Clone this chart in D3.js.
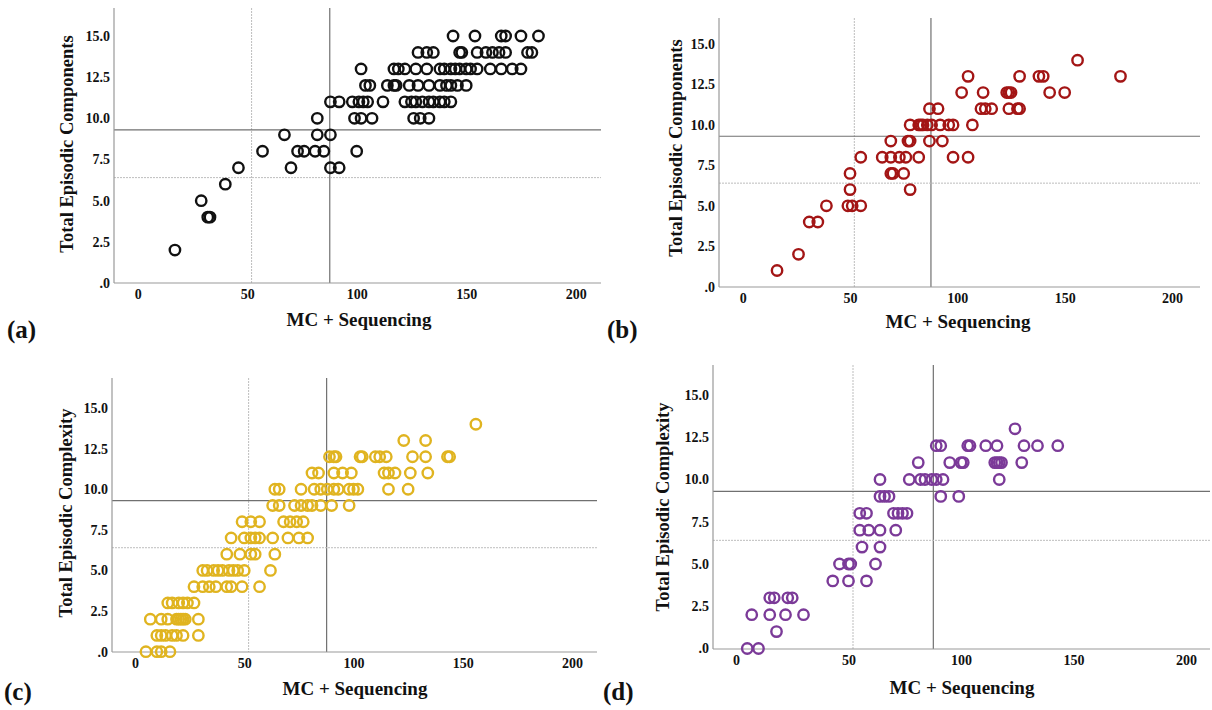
<!DOCTYPE html>
<html><head><meta charset="utf-8">
<script src="https://cdn.jsdelivr.net/npm/d3@7"></script>
<style>
body{margin:0;background:#fff}
svg text{font-family:"Liberation Serif","Times New Roman",serif !important;font-weight:bold;fill:#111}
</style></head>
<body><svg id="chart" width="1212" height="710"></svg>
<script>
// ---- data ----
const xTicks = [0, 50, 100, 150, 200];
const yTicks = [0, 2.5, 5, 7.5, 10, 12.5, 15];
const refX = [52, 87.7];   // dotted, solid
const refY = [6.4, 9.3];   // dotted, solid
const xTitle = "MC + Sequencing";
const yTitles = ["Total Episodic Components", "Total Episodic Components", "Total Episodic Complexity", "Total Episodic Complexity"];
const panelLetters = ["(a)", "(b)", "(c)", "(d)"];
const colors = ["#111111", "#a31515", "#e0b420", "#7b3a98"];

const pointsA = [[17,2],[29,5],[32,4],[33,4],[40,6],[46,7],[57,8],[67,9],[70,7],[73,8],[76,8],[81,8],[82,9],[82,10],[85,8],[88,9],[88,7],[88,11],[92,7],[92,11],[98,11],[99,10],[100,8],[101,11],[102,13],[102,10],[103,11],[104,12],[105,11],[106,12],[107,10],[112,11],[114,12],[117,12],[117,13],[118,12],[119,13],[122,13],[122,11],[124,12],[125,11],[126,10],[127,11],[127,13],[128,12],[128,14],[129,10],[130,11],[132,13],[132,14],[133,10],[133,11],[133,12],[135,11],[135,14],[138,11],[138,12],[138,13],[140,11],[140,13],[141,12],[143,11],[143,12],[143,13],[144,15],[145,13],[146,12],[147,13],[147,14],[148,14],[150,12],[150,13],[152,13],[154,15],[155,13],[155,14],[159,14],[161,13],[162,14],[165,14],[166,13],[166,15],[168,14],[168,15],[171,13],[175,13],[175,15],[178,14],[180,14],[183,15]];
const pointsB = [[16,1],[26,2],[31,4],[35,4],[39,5],[49,5],[51,5],[55,5],[50,6],[50,7],[69,7],[70,7],[75,7],[78,6],[55,8],[65,8],[69,8],[73,8],[76,8],[82,8],[98,8],[105,8],[69,9],[77,9],[78,9],[87,9],[93,9],[78,10],[82,10],[83,10],[84,10],[86,10],[88,10],[92,10],[96,10],[98,10],[107,10],[87,11],[91,11],[111,11],[113,11],[116,11],[124,11],[128,11],[129,11],[102,12],[112,12],[123,12],[124,12],[125,12],[143,12],[150,12],[105,13],[129,13],[138,13],[140,13],[176,13],[156,14]];
const pointsC = [[5,0],[10,0],[12,0],[16,0],[10,1],[12,1],[14,1],[17,1],[19,1],[22,1],[29,1],[7,2],[12,2],[15,2],[19,2],[20,2],[21,2],[22,2],[23,2],[29,2],[15,3],[17,3],[20,3],[22,3],[24,3],[27,3],[27,4],[31,4],[34,4],[37,4],[42,4],[44,4],[49,4],[57,4],[31,5],[33,5],[36,5],[38,5],[40,5],[43,5],[45,5],[47,5],[50,5],[62,5],[42,6],[48,6],[53,6],[55,6],[64,6],[44,7],[50,7],[53,7],[55,7],[57,7],[63,7],[70,7],[75,7],[79,7],[49,8],[53,8],[57,8],[68,8],[71,8],[74,8],[77,8],[63,9],[66,9],[73,9],[76,9],[79,9],[81,9],[85,9],[90,9],[98,9],[64,10],[66,10],[76,10],[82,10],[85,10],[88,10],[91,10],[93,10],[98,10],[100,10],[102,10],[116,10],[125,10],[81,11],[84,11],[91,11],[95,11],[99,11],[114,11],[116,11],[119,11],[126,11],[134,11],[89,12],[91,12],[92,12],[103,12],[104,12],[110,12],[112,12],[115,12],[127,12],[133,12],[143,12],[144,12],[123,13],[133,13],[156,14]];
const pointsD = [[5,0],[10,0],[18,1],[7,2],[15,2],[22,2],[30,2],[15,3],[17,3],[23,3],[25,3],[43,4],[50,4],[58,4],[46,5],[50,5],[51,5],[62,5],[56,6],[64,6],[55,7],[59,7],[64,7],[71,7],[55,8],[58,8],[70,8],[72,8],[74,8],[76,8],[64,9],[66,9],[68,9],[91,9],[99,9],[64,10],[77,10],[82,10],[84,10],[87,10],[89,10],[92,10],[117,10],[81,11],[95,11],[100,11],[101,11],[115,11],[116,11],[117,11],[118,11],[127,11],[89,12],[91,12],[103,12],[104,12],[111,12],[116,12],[128,12],[134,12],[143,12],[124,13]];
const allPoints = [pointsA, pointsB, pointsC, pointsD];

// ---- layout (pixels) ----
const layout = [
  {box:[114,601,8,283],  x:[137.7,575.7], y:[283,36],   yt:[67,144],  xt:[359,326], lt:[7,338]},
  {box:[719,1200,18,287],x:[742.7,1172],  y:[286.7,44], yt:[676,148], xt:[958,328], lt:[607,338]},
  {box:[112,597,378,652],x:[135,572],     y:[651.7,408],yt:[66,513],  xt:[355,695], lt:[4,700]},
  {box:[713,1210,365,649],x:[736,1186],   y:[648.5,395],yt:[663,507], xt:[962,694], lt:[603,700]}
];

const svg = d3.select("#chart");
const fmtY = v => v === 0 ? ".0" : d3.format(".1f")(v);
const serif = '"Liberation Serif","Times New Roman",serif';

layout.forEach((L, i) => {
  const [left, right, top, bottom] = L.box;
  const x = d3.scaleLinear().domain([0, 200]).range(L.x);
  const y = d3.scaleLinear().domain([0, 15]).range(L.y);
  const g = svg.append("g");

  // reference lines
  g.append("line").attr("x1", x(refX[0])).attr("x2", x(refX[0])).attr("y1", top).attr("y2", bottom)
    .attr("stroke", "#bdbdbd").attr("stroke-width", 1).attr("stroke-dasharray", "2,1");
  g.append("line").attr("x1", x(refX[1])).attr("x2", x(refX[1])).attr("y1", top).attr("y2", bottom)
    .attr("stroke", "#707070").attr("stroke-width", 1.2);
  g.append("line").attr("x1", left).attr("x2", right).attr("y1", y(refY[0])).attr("y2", y(refY[0]))
    .attr("stroke", "#bdbdbd").attr("stroke-width", 1).attr("stroke-dasharray", "2,1");
  g.append("line").attr("x1", left).attr("x2", right).attr("y1", y(refY[1])).attr("y2", y(refY[1]))
    .attr("stroke", "#707070").attr("stroke-width", 1.2);

  // axes
  const ya = g.append("g").attr("transform", `translate(${left},0)`)
    .call(d3.axisLeft(y).tickValues(yTicks).tickFormat(fmtY).tickSize(0).tickPadding(4));
  ya.attr("font-family", null).attr("font-size", null);
  ya.select(".domain").remove();
  ya.selectAll("text").style("font-size", "14px").style("font-family", serif).style("font-weight", "bold");
  const xa = g.append("g").attr("transform", `translate(0,${bottom})`)
    .call(d3.axisBottom(x).tickValues(xTicks).tickFormat(d3.format("d")).tickSize(0).tickPadding(6));
  xa.attr("font-family", null).attr("font-size", null);
  xa.select(".domain").remove();
  xa.selectAll("text").style("font-size", "14px").style("font-family", serif).style("font-weight", "bold");
  g.append("line").attr("x1", left).attr("x2", left).attr("y1", top).attr("y2", bottom)
    .attr("stroke", "#999").attr("stroke-width", 1.2);
  g.append("line").attr("x1", left).attr("x2", right).attr("y1", bottom).attr("y2", bottom)
    .attr("stroke", "#999").attr("stroke-width", 1.2);

  // points
  g.append("g").selectAll("circle").data(allPoints[i]).join("circle")
    .attr("cx", d => x(d[0])).attr("cy", d => y(d[1])).attr("r", 5.2)
    .attr("fill", "none").attr("stroke", colors[i]).attr("stroke-width", 2.4);

  // titles
  g.append("text").attr("x", L.xt[0]).attr("y", L.xt[1]).attr("text-anchor", "middle")
    .style("font-family", serif).style("font-size", "19px").text(xTitle);
  g.append("text").attr("transform", `translate(${L.yt[0]},${L.yt[1]}) rotate(-90)`)
    .attr("text-anchor", "middle").attr("dy", "0.35em")
    .style("font-family", serif).style("font-size", "18.5px").text(yTitles[i]);
  g.append("text").attr("x", L.lt[0]).attr("y", L.lt[1])
    .style("font-family", serif).style("font-size", "25px").text(panelLetters[i]);
});
</script></body></html>
